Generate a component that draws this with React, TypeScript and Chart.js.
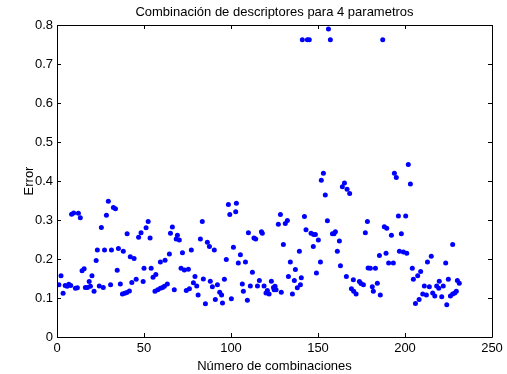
import React, { useEffect, useRef } from "react";
import { Chart, registerables } from "chart.js";

Chart.register(...registerables);

const chartTitle = "Combinación de descriptores para 4 parametros";
const xAxisTitle = "Número de combinaciones";
const yAxisTitle = "Error";
const xTicks = [0, 50, 100, 150, 200, 250];
const yTicks = [0, 0.1, 0.2, 0.3, 0.4, 0.5, 0.6, 0.7, 0.8];

const comboIndex = [
  1.1, 2.3, 3.5, 4.7, 5.8, 6.8, 7.9, 8.4, 9.6, 10.6, 11.7, 12.3, 13.4, 14.4, 15.6, 16.3, 17.5, 18.5, 19.2, 20.1,
  21.3, 22.5, 23.2, 24.3, 25.5, 26.6, 27.3, 28.4, 29.5, 30.8, 31.3, 32.4, 33.6, 34.6, 35.3, 36.4, 37.6, 38.1, 38.9, 40.1,
  40.3, 41.6, 42.1, 43.0, 44.3, 45.5, 46.9, 48.3, 49.5, 50.0, 51.2, 52.4, 53.5, 54.1, 55.2, 56.3, 56.8, 57.9, 59.4, 59.4,
  60.7, 61.7, 62.1, 63.4, 64.6, 65.2, 66.3, 67.4, 68.5, 69.2, 70.3, 71.3, 72.1, 73.2, 74.3, 75.5, 76.1, 77.2, 78.4, 79.3,
  80.3, 81.1, 82.4, 83.5, 84.1, 85.3, 86.4, 87.6, 88.1, 89.3, 90.4, 91.0, 92.2, 93.5, 94.6, 95.1, 96.2, 97.3, 98.5, 99.3,
  100.2, 101.4, 102.7, 103.1, 104.2, 105.4, 106.5, 107.1, 108.3, 109.4, 110.0, 111.1, 112.3, 113.2, 114.2, 115.2, 116.3, 117.5, 118.0, 119.0,
  120.1, 120.9, 121.9, 123.2, 124.4, 124.8, 125.3, 125.9, 127.2, 128.4, 128.9, 130.1, 131.2, 132.4, 133.0, 134.1, 135.3, 136.4, 137.0, 138.1,
  139.3, 139.9, 140.4, 141.0, 142.2, 143.1, 143.9, 145.0, 146.0, 147.3, 147.5, 148.5, 149.1, 150.2, 151.4, 151.9, 153.1, 154.2, 155.4, 156.0,
  157.1, 158.3, 159.2, 160.0, 161.1, 162.3, 162.9, 164.0, 165.2, 166.3, 166.7, 168.2, 169.2, 170.3, 170.5, 171.9, 173.8, 174.7, 176.1, 177.2,
  178.4, 178.8, 180.1, 181.2, 181.8, 183.0, 184.1, 185.3, 185.8, 187.2, 188.1, 189.1, 189.5, 190.6, 192.2, 193.3, 193.9, 195.0, 196.2, 196.8,
  197.9, 199.1, 200.4, 201.0, 201.9, 203.1, 204.2, 204.8, 206.0, 207.3, 208.1, 209.0, 210.2, 211.1, 212.3, 212.9, 214.0, 215.1, 215.9, 217.1,
  218.2, 219.4, 219.7, 221.1, 222.0, 223.4, 224.0, 224.9, 226.1, 227.4, 227.4, 228.6, 229.5, 230.1, 231.2,
];

const errorValue = [
  0.134, 0.157, 0.112, 0.132, 0.13, 0.135, 0.132, 0.315, 0.318, 0.125, 0.126, 0.317, 0.306, 0.17, 0.175, 0.127, 0.127, 0.142, 0.13, 0.157,
  0.117, 0.196, 0.223, 0.131, 0.281, 0.127, 0.223, 0.312, 0.348, 0.134, 0.223, 0.332, 0.329, 0.171, 0.227, 0.136, 0.11, 0.22, 0.112, 0.114,
  0.265, 0.118, 0.206, 0.14, 0.201, 0.148, 0.256, 0.267, 0.142, 0.176, 0.28, 0.296, 0.254, 0.176, 0.153, 0.117, 0.16, 0.121, 0.125, 0.192,
  0.127, 0.13, 0.197, 0.136, 0.213, 0.266, 0.282, 0.121, 0.251, 0.261, 0.249, 0.176, 0.216, 0.172, 0.119, 0.174, 0.124, 0.223, 0.139, 0.155,
  0.131, 0.108, 0.251, 0.296, 0.149, 0.085, 0.243, 0.232, 0.143, 0.129, 0.223, 0.096, 0.134, 0.115, 0.108, 0.087, 0.148, 0.199, 0.34, 0.314,
  0.098, 0.23, 0.321, 0.343, 0.19, 0.211, 0.136, 0.117, 0.192, 0.094, 0.267, 0.131, 0.166, 0.254, 0.251, 0.131, 0.145, 0.27, 0.266, 0.131,
  0.113, 0.119, 0.11, 0.143, 0.127, 0.121, 0.13, 0.121, 0.289, 0.314, 0.115, 0.237, 0.291, 0.299, 0.155, 0.192, 0.11, 0.145, 0.173, 0.126,
  0.22, 0.134, 0.152, 0.762, 0.309, 0.275, 0.762, 0.762, 0.266, 0.232, 0.263, 0.263, 0.164, 0.249, 0.192, 0.402, 0.42, 0.364, 0.298, 0.79,
  0.762, 0.265, 0.265, 0.27, 0.22, 0.246, 0.183, 0.385, 0.395, 0.155, 0.379, 0.368, 0.124, 0.147, 0.117, 0.11, 0.142, 0.137, 0.134, 0.267,
  0.296, 0.177, 0.176, 0.129, 0.117, 0.176, 0.138, 0.209, 0.108, 0.762, 0.283, 0.215, 0.279, 0.19, 0.261, 0.19, 0.42, 0.409, 0.31, 0.22,
  0.265, 0.218, 0.31, 0.215, 0.442, 0.392, 0.176, 0.148, 0.086, 0.157, 0.096, 0.168, 0.11, 0.131, 0.108, 0.192, 0.129, 0.207, 0.113, 0.105,
  0.131, 0.125, 0.143, 0.103, 0.131, 0.19, 0.083, 0.148, 0.105, 0.11, 0.237, 0.113, 0.117, 0.145, 0.138,
];

const FONT = "'Liberation Sans', Arial, Helvetica, sans-serif";

const boxPlugin = {
  id: "matlabBox",
  afterDraw(chart: any) {
    const { ctx, chartArea } = chart;
    const { left, right, top, bottom } = chartArea;
    const xs = chart.scales.x;
    const ys = chart.scales.y;
    const tl = 4;
    ctx.save();
    ctx.strokeStyle = "#000";
    ctx.lineWidth = 1;
    ctx.beginPath();
    ctx.rect(Math.round(left) + 0.5, Math.round(top) + 0.5, Math.round(right - left), Math.round(bottom - top));
    xs.ticks.forEach((t: any) => {
      const px = Math.round(xs.getPixelForValue(t.value)) + 0.5;
      ctx.moveTo(px, bottom);
      ctx.lineTo(px, bottom - tl);
      ctx.moveTo(px, top);
      ctx.lineTo(px, top + tl);
    });
    ys.ticks.forEach((t: any) => {
      const py = Math.round(ys.getPixelForValue(t.value)) + 0.5;
      ctx.moveTo(left, py);
      ctx.lineTo(left + tl, py);
      ctx.moveTo(right, py);
      ctx.lineTo(right - tl, py);
    });
    ctx.stroke();
    // title centred over the axes, as MATLAB does
    ctx.fillStyle = "#000";
    ctx.font = `13px ${FONT}`;
    ctx.textAlign = "center";
    ctx.textBaseline = "middle";
    ctx.fillText(chartTitle, (left + right) / 2, 12);
    ctx.restore();
  },
};

export default function App() {
  const ref = useRef<HTMLCanvasElement | null>(null);

  useEffect(() => {
    if (!ref.current) return;
    const points = comboIndex.map((x, i) => ({ x, y: errorValue[i] }));
    const chart = new Chart(ref.current, {
      type: "scatter",
      data: {
        datasets: [
          {
            data: points,
            backgroundColor: "#0000ff",
            borderWidth: 0,
            pointRadius: 2.5,
            pointHoverRadius: 2.5,
          },
        ],
      },
      plugins: [boxPlugin],
      options: {
        animation: false,
        responsive: false,
        events: [],
        layout: { padding: { left: 0, right: 15, top: 25, bottom: 0 } },
        plugins: {
          legend: { display: false },
          tooltip: { enabled: false },
          title: { display: false },
        },
        scales: {
          x: {
            type: "linear",
            min: 0,
            max: 250,
            afterBuildTicks: (s: any) => {
              s.ticks = xTicks.map((v) => ({ value: v }));
            },
            afterFit: (s: any) => {
              s.height = 37;
            },
            grid: { display: false, drawTicks: false },
            border: { display: false },
            ticks: {
              color: "#000",
              padding: 4,
              maxRotation: 0,
              font: { family: FONT, size: 13 },
              callback: (v: any) => String(v),
            },
            title: {
              display: true,
              text: xAxisTitle,
              color: "#000",
              font: { family: FONT, size: 13 },
              padding: { top: 2, bottom: 0 },
            },
          },
          y: {
            type: "linear",
            min: 0,
            max: 0.8,
            afterBuildTicks: (s: any) => {
              s.ticks = yTicks.map((v) => ({ value: v }));
            },
            afterFit: (s: any) => {
              s.width = 57;
            },
            grid: { display: false, drawTicks: false },
            border: { display: false },
            ticks: {
              color: "#000",
              padding: 4,
              font: { family: FONT, size: 13 },
              callback: (v: any) => (v === 0 ? "0" : Number(v).toFixed(1)),
            },
            title: {
              display: true,
              text: yAxisTitle,
              color: "#000",
              font: { family: FONT, size: 13 },
              padding: { top: 22, bottom: 0 },
            },
          },
        },
      },
    } as any);
    return () => chart.destroy();
  }, []);

  return (
    <div style={{ position: "fixed", left: 0, top: 0, width: 507, height: 374, background: "#fff" }}>
      <canvas ref={ref} width={507} height={374} />
    </div>
  );
}
